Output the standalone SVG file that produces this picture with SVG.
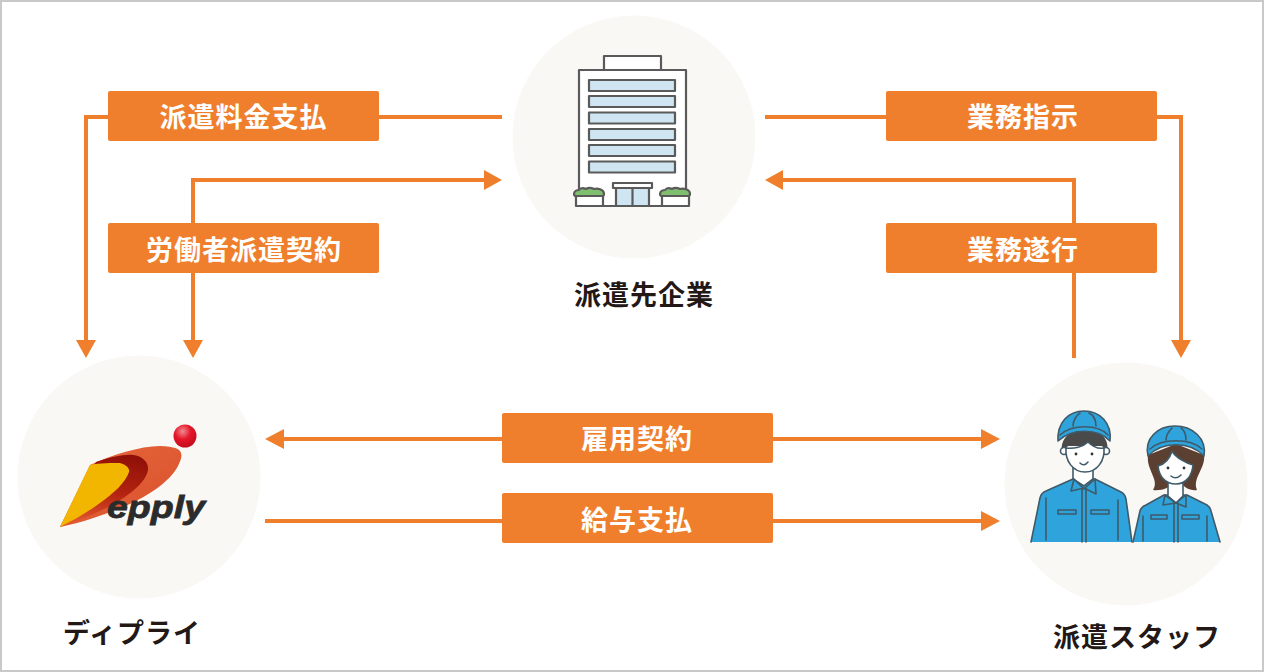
<svg xmlns="http://www.w3.org/2000/svg" width="1264" height="672" viewBox="0 0 1264 672">
<defs>
<linearGradient id="red" x1="0" y1="0" x2="1" y2="1"><stop offset="0" stop-color="#e8683c"/><stop offset="1" stop-color="#d8502c"/></linearGradient>
<linearGradient id="dark" x1="0.8" y1="0" x2="0.6" y2="1"><stop offset="0" stop-color="#8e0f08"/><stop offset="0.55" stop-color="#b42410"/><stop offset="1" stop-color="#e0552c"/></linearGradient>
<radialGradient id="ball" cx="0.4" cy="0.3" r="0.7"><stop offset="0" stop-color="#f08a90"/><stop offset="0.5" stop-color="#e5162a"/><stop offset="1" stop-color="#c40d1c"/></radialGradient>
</defs>
<style>
.bg{fill:#faf8f4}
.line{fill:none;stroke:#ef7f2d;stroke-width:4}
.head{fill:#ef7f2d}
.box{fill:#ef7f2d}
.lab{font-family:"Noto Sans CJK JP","Noto Sans",sans-serif;font-size:27px;font-weight:700;fill:#fff;text-anchor:middle;letter-spacing:1px}
.name{font-family:"Noto Sans CJK JP","Noto Sans",sans-serif;font-size:27px;font-weight:700;fill:#231815;text-anchor:middle;letter-spacing:1px}
.g{stroke:#5a5a5a;stroke-width:2.200;stroke-linejoin:round}
.w{stroke:#3f5a68;stroke-width:1.600;stroke-linejoin:round;stroke-linecap:round}
.blue{fill:#2fa3dc}
.sk{fill:#fff}
</style>
<rect x="1" y="1" width="1262" height="670" fill="#fff" stroke="#c9c9c9" stroke-width="2"/>

<g id="connectors">
<path class="line" d="M502 117H86V342"/>
<path class="head" d="M76 340H96L86 358Z"/>
<path class="line" d="M193 342V180H486"/>
<path class="head" d="M183 340H203L193 358Z"/>
<path class="head" d="M484 170V190L502 180Z"/>
<path class="line" d="M765 117H1181V342"/>
<path class="head" d="M1171 340H1191L1181 358Z"/>
<path class="line" d="M1074 358V180H781"/>
<path class="head" d="M783 170V190L765 180Z"/>
<path class="line" d="M282 439H984"/>
<path class="head" d="M284 429V449L265 439Z"/>
<path class="head" d="M981 429V449L1000 439Z"/>
<path class="line" d="M265 521H984"/>
<path class="head" d="M981 511V531L1000 521Z"/>
</g>

<g id="label-haken-ryokin"><rect class="box" x="108" y="91" width="271" height="50" rx="2"/><text class="lab" x="243.500" y="127">派遣料金支払</text></g>
<g id="label-roudousha"><rect class="box" x="108" y="223" width="271" height="50" rx="2"/><text class="lab" x="244" y="260">労働者派遣契約</text></g>
<g id="label-gyomu-shiji"><rect class="box" x="886" y="91" width="271" height="50" rx="2"/><text class="lab" x="1023" y="127">業務指示</text></g>
<g id="label-gyomu-suikou"><rect class="box" x="886" y="223" width="271" height="50" rx="2"/><text class="lab" x="1023" y="260">業務遂行</text></g>
<g id="label-koyou"><rect class="box" x="502" y="413" width="271" height="50" rx="2"/><text class="lab" x="637" y="449">雇用契約</text></g>
<g id="label-kyuyo"><rect class="box" x="502" y="493" width="271" height="50" rx="2"/><text class="lab" x="637" y="530">給与支払</text></g>

<g id="node-client">
<circle class="bg" cx="634" cy="137" r="121.500"/>
<rect class="g" x="604" y="56" width="57" height="14" fill="#fff"/>
<rect class="g" x="579" y="70" width="107" height="136" fill="#fff"/>
<g class="g" fill="#cfe5f2">
<rect x="589" y="80" width="86" height="11"/>
<rect x="589" y="96" width="86" height="11"/>
<rect x="589" y="112.500" width="86" height="11"/>
<rect x="589" y="129" width="86" height="11"/>
<rect x="589" y="145" width="86" height="11"/>
<rect x="589" y="161.500" width="86" height="11"/>
<rect x="616" y="188" width="33" height="18"/>
<path d="M632.500 188V206" fill="none"/>
<rect x="613" y="183" width="39" height="5" fill="#fff"/>
<rect x="576" y="196" width="27" height="10" fill="#fff"/>
<rect x="662" y="196" width="27" height="10" fill="#fff"/>
<path d="M574 194c0-3 3-4 5-4 2-3 5-2 7-1 3-2 6-1 8 0 3-1 10 0 10 5 0 1-1 2-2 2H576c-1 0-2-1-2-2Z" fill="#7fbe6e"/>
<path d="M660 194c0-3 3-4 5-4 2-3 5-2 7-1 3-2 6-1 8 0 3-1 10 0 10 5 0 1-1 2-2 2H662c-1 0-2-1-2-2Z" fill="#7fbe6e"/>
</g>
<text class="name" x="644" y="305">派遣先企業</text>
</g>

<g id="node-epply">
<circle class="bg" cx="139" cy="477" r="121.500"/>
<path d="M60 527C85 522 105 514 123 507C145 498 170 482 178 466C186 450 180 447 160 446C140 446 112 455 90 465Z" fill="url(#red)"/>
<path d="M96 462C110 457 125 454 133 455C143 456 149 463 148 470C146 482 130 495 112 505C95 514 75 522 60 527Z" fill="url(#dark)"/>
<path d="M90 465C100 463 112 463 120 463C127 465 130 469 129 472C126 482 113 494 100 503C88 512 74 520 60 527Z" fill="#f2b600"/>
<circle cx="185" cy="436" r="11.500" fill="url(#ball)"/>
<text x="107" y="518" font-family="Liberation Sans, sans-serif" font-size="32" font-weight="700" font-style="italic" fill="#2b2b2b" stroke="#2b2b2b" stroke-width="0.800" textLength="98" lengthAdjust="spacingAndGlyphs">epply</text>
<text class="name" x="132" y="643">ディプライ</text>
</g>

<g id="node-staff">
<circle class="bg" cx="1126" cy="484" r="121.500"/>
<g id="man">
<path class="w blue" d="M1031 542L1040 498Q1041 493 1046 491L1073 479H1095L1121 492Q1125 494 1126 499L1132 542"/>
<path class="w sk" d="M1073 460H1093V479L1084 486L1073 479Z"/>
<path fill="#4a4a4a" d="M1062 452C1060 438 1070 430 1085 430C1100 430 1110 438 1107 452L1102 446H1068Z"/>
<circle class="w sk" cx="1064" cy="451" r="3.500"/><circle class="w sk" cx="1106" cy="451" r="3.500"/>
<path class="w sk" d="M1066 448C1074 449 1083 447 1088 442C1093 447 1099 449 1104 448C1105 461 1097 472 1085 472C1073 472 1065 461 1066 448Z"/>
<path class="w blue" d="M1058 441C1057 423 1068 411 1084 411C1100 411 1112 423 1110 441C1098 428 1072 428 1058 441Z"/>
<path class="w" fill="none" d="M1060 435C1072 424 1098 424 1108 435M1073 426C1073 420 1077 415 1080 413M1096 426C1096 420 1093 415 1089 413"/>
<circle cx="1076" cy="454" r="1.400" fill="#333"/><circle cx="1092" cy="454" r="1.400" fill="#333"/>
<path class="w" fill="none" d="M1080 463Q1084 467 1088 462"/>
<path class="w blue" d="M1074 479L1071 491L1084 488L1096 494L1095 479L1084 489Z"/>
<path class="w" fill="none" d="M1082 489V542M1086 489V542M1046 498V540M1118 500V540"/>
<rect class="w" x="1058" y="510" width="18" height="4" fill="none"/><rect class="w" x="1091" y="510" width="18" height="4" fill="none"/>
</g>
<g id="woman">
<path fill="#5b4032" d="M1148 455C1146 470 1160 480 1153 490C1162 491 1168 488 1172 484H1182C1186 489 1192 491 1197 490C1192 478 1206 468 1204 455L1176 444Z"/>
<path class="w blue" d="M1133 542L1140 511Q1141 507 1146 505L1164 495H1187L1207 505Q1210 507 1211 511L1220 542"/>
<path class="w sk" d="M1168 480H1183V496L1176 503L1168 496Z"/>
<path class="w sk" d="M1158 466C1165 464 1170 458 1172 451C1176 458 1186 463 1193 465C1192 476 1186 484 1176 484C1165 484 1159 476 1158 466Z"/>
<path class="w blue" d="M1148 456C1144 438 1158 426 1175 426C1192 426 1207 438 1204 456C1190 441 1162 441 1148 456Z"/>
<path class="w" fill="none" d="M1150 449C1162 438 1190 438 1202 449M1166 440C1166 434 1170 430 1172 428M1186 440C1186 434 1184 430 1181 428"/>
<circle cx="1168" cy="468" r="1.400" fill="#333"/><circle cx="1184" cy="468" r="1.400" fill="#333"/>
<path class="w" fill="none" d="M1171 476Q1176 480 1181 475"/>
<path class="w blue" d="M1165 495L1163 505L1176 503L1186 507L1186 495L1176 503Z"/>
<path class="w" fill="none" d="M1174 503V542M1178 503V542M1143 516V541M1207 516V541"/>
<rect class="w" x="1151" y="515" width="16" height="4" fill="none"/><rect class="w" x="1182" y="515" width="17" height="4" fill="none"/>
</g>
<text class="name" x="1137" y="647">派遣スタッフ</text>
</g>
</svg>
